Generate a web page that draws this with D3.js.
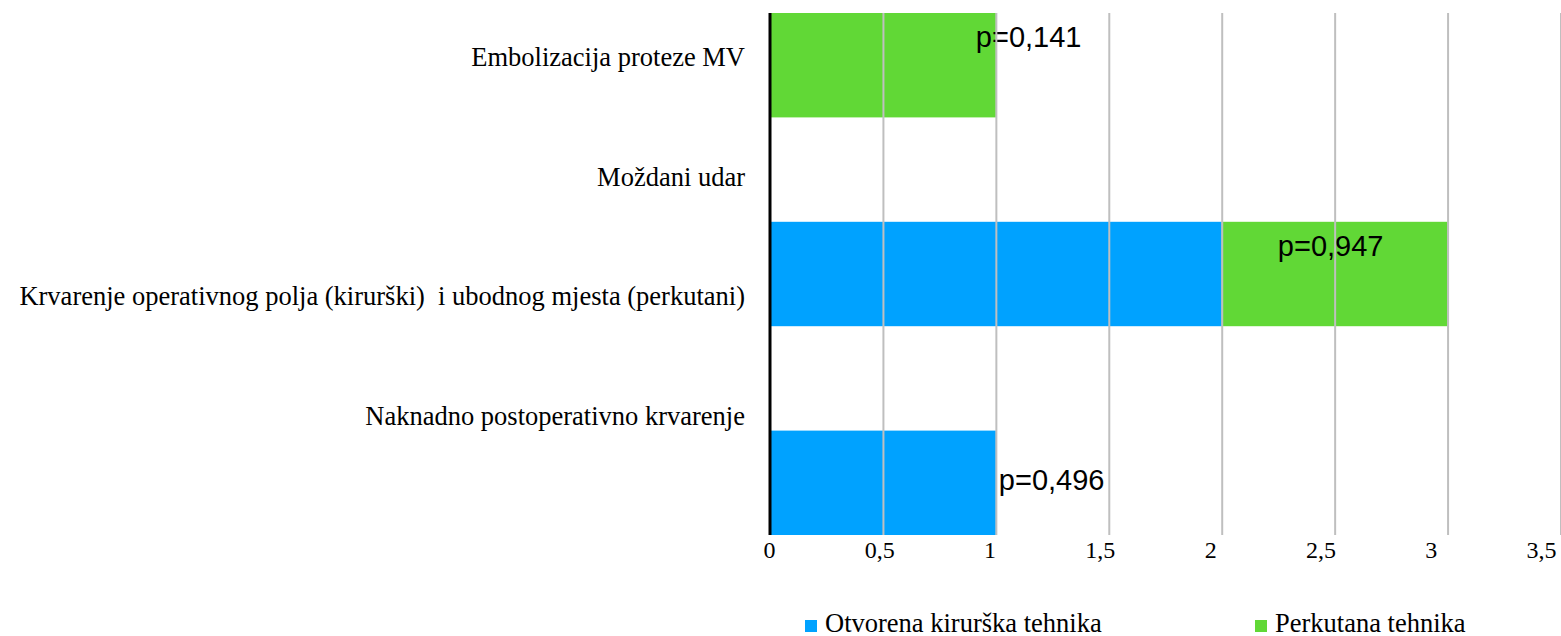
<!DOCTYPE html>
<html>
<head>
<meta charset="utf-8">
<script src="https://cdn.jsdelivr.net/npm/d3@7"></script>
<style>
  body { margin: 0; background: #fff; }
</style>
</head>
<body>
<div id="chart"></div>
<script>
// data
var categories = ["Embolizacija proteze MV", "Moždani udar",
  "Krvarenje operativnog polja (kirurški)  i ubodnog mjesta (perkutani)",
  "Naknadno postoperativno krvarenje"];
var otvorena = [0, 0, 2, 1];
var perkutana = [1, 0, 1, 0];
var pLabels = ["p=0,141", "", "p=0,947", "p=0,496"];
var xTicks = [0, 0.5, 1, 1.5, 2, 2.5, 3, 3.5];
var seriesNames = ["Otvorena kirurška tehnika", "Perkutana tehnika"];
var seriesColors = ["#00A2FF", "#61D836"];

function drawChart() {
  var svgWidth = 1561;
  var svgHeight = 636;
  var plotTop = 13, plotBottom = 535, plotLeft = 770, plotRight = 1560.5;

  var svg = d3.select("#chart")
    .append("svg")
    .attr("width", svgWidth)
    .attr("height", svgHeight)
    .style("font-family", "'Liberation Serif', 'Times New Roman', serif");

  var xScale = d3.scaleLinear().domain([0, 3.5]).range([plotLeft, plotRight]);
  // the tick labels sit a bit left of their gridlines in the original
  var xLabelScale = d3.scaleLinear().domain([0, 3.5]).range([769, 1541]);

  // bar rows: the original leaves an empty slot before the last category
  var rows = categories.slice(0, 3).concat([" "], categories.slice(3));
  var yBar = d3.scaleBand().domain(rows).range([plotTop, plotBottom]).padding(0);
  // category labels are spaced on their own
  var yLabel = d3.scalePoint().domain(categories).range([66, 425]);

  var table = categories.map(function(c, i) {
    return { cat: c, otvorena: otvorena[i], perkutana: perkutana[i], p: pLabels[i] };
  });
  var stack = d3.stack().keys(["otvorena", "perkutana"])(table);

  // bars
  svg.append("g").selectAll("g")
    .data(stack)
    .enter()
    .append("g")
    .attr("fill", function(d, i) { return seriesColors[i]; })
    .selectAll("rect")
    .data(function(d) { return d; })
    .enter()
    .append("rect")
    .attr("x", function(d) { return xScale(d[0]); })
    .attr("y", function(d) { return yBar(d.data.cat); })
    .attr("width", function(d) { return xScale(d[1]) - xScale(d[0]); })
    .attr("height", yBar.bandwidth());

  // p labels, placed by hand like in the original
  var pGroup = svg.append("g")
    .style("font-family", "'Liberation Sans', Arial, sans-serif")
    .style("font-size", "29px")
    .attr("fill", "#000");

  table.forEach(function(d, i) {
    if (!d.p) return;
    var total = d.otvorena + d.perkutana;
    var t = pGroup.append("text").text(d.p);
    if (i === 0) {
      t.attr("x", xScale(total) - 20).attr("y", yBar(d.cat) + 34);
    } else if (i === 2) {
      t.attr("x", (xScale(d.otvorena) + xScale(total)) / 2 - 4)
        .attr("y", yBar(d.cat) + 34)
        .attr("text-anchor", "middle");
    } else {
      t.attr("x", xScale(total) + 3)
        .attr("y", yBar(d.cat) + yBar.bandwidth() / 2 + 7);
    }
  });

  // gridlines on top of the bars
  var grid = svg.append("g")
    .attr("transform", "translate(0," + plotBottom + ")")
    .call(d3.axisBottom(xScale).tickValues(xTicks.slice(1))
      .tickSize(-(plotBottom - plotTop)).tickFormat(""));
  grid.select(".domain").remove();
  grid.selectAll("line").attr("stroke", "#BFBFBF").attr("stroke-width", 2);

  // vertical axis line
  svg.append("line")
    .attr("x1", xScale(0)).attr("x2", xScale(0))
    .attr("y1", plotTop).attr("y2", plotBottom)
    .attr("stroke", "#000")
    .attr("stroke-width", 3);

  // x tick labels
  var xAxis = svg.append("g")
    .attr("transform", "translate(0," + plotBottom + ")")
    .call(d3.axisBottom(xLabelScale).tickValues(xTicks).tickSize(0)
      .tickFormat(function(d) { return String(d).replace(".", ","); }));
  xAxis.select(".domain").remove();
  xAxis.selectAll("text")
    .attr("y", 23)
    .attr("dy", 0)
    .style("font-family", "'Liberation Serif', 'Times New Roman', serif")
    .style("font-size", "24px")
    .attr("fill", "#000");

  // category labels
  svg.append("g").selectAll("text")
    .data(categories)
    .enter()
    .append("text")
    .attr("x", 745)
    .attr("y", function(d) { return yLabel(d); })
    .attr("text-anchor", "end")
    .style("white-space", "pre")
    .style("font-size", "26.5px")
    .attr("fill", "#000")
    .text(function(d) { return d; });

  // legend
  var legendX = [805, 1255];
  var legend = svg.append("g").selectAll("g")
    .data(seriesNames)
    .enter()
    .append("g")
    .attr("transform", function(d, i) { return "translate(" + legendX[i] + ",620)"; });

  legend.append("rect")
    .attr("width", 12)
    .attr("height", 12)
    .attr("fill", function(d, i) { return seriesColors[i]; });

  legend.append("text")
    .attr("x", 20)
    .attr("y", 12)
    .style("font-size", "26.5px")
    .attr("fill", "#000")
    .text(function(d) { return d; });
}
drawChart();
</script>
</body>
</html>
